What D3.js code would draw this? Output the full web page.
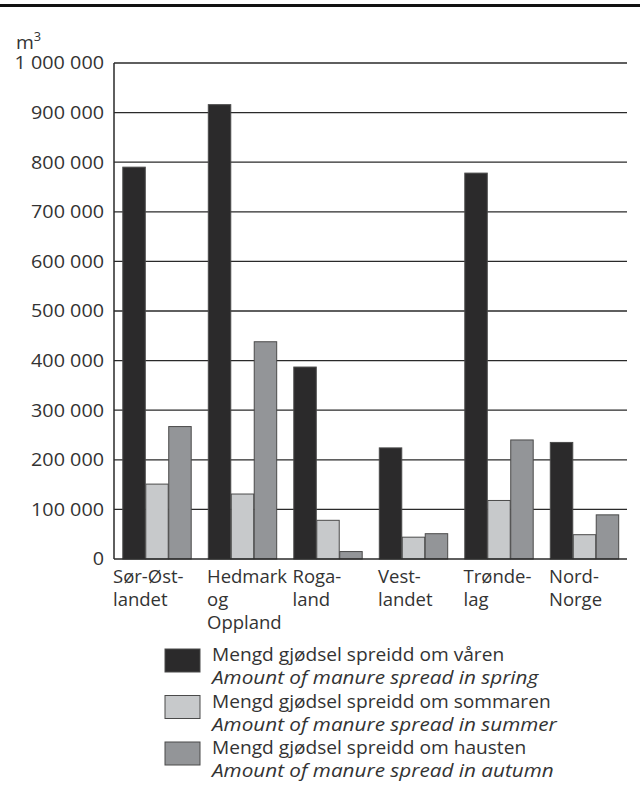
<!DOCTYPE html>
<html>
<head>
<meta charset="utf-8">
<script src="https://cdn.jsdelivr.net/npm/d3@7"></script>
<style>
  html, body { margin: 0; padding: 0; background: #fff; }
  svg { display: block; font-family: "Open Sans", sans-serif; }
</style>
</head>
<body>
<svg id="chart" width="640" height="791"></svg>
<script>
// ---- Data ----
const categories = [["Sør-Øst-", "landet"], ["Hedmark", "og", "Oppland"], ["Roga-", "land"], ["Vest-", "landet"], ["Trønde-", "lag"], ["Nord-", "Norge"]];
const categoryKeys = ["Sør-Østlandet", "Hedmark og Oppland", "Rogaland", "Vestlandet", "Trøndelag", "Nord-Norge"];
const spring = [790000, 916000, 387000, 224000, 778000, 235000];
const summer = [151000, 131000, 78000, 44000, 118000, 49000];
const autumn = [267000, 438000, 15000, 51000, 240000, 89000];
const seriesNames = ["spring", "summer", "autumn"];
const legendNo = ["Mengd gjødsel spreidd om våren", "Mengd gjødsel spreidd om sommaren", "Mengd gjødsel spreidd om hausten"];
const legendEn = ["Amount of manure spread in spring", "Amount of manure spread in summer", "Amount of manure spread in autumn"];
const yTicks = [0, 100000, 200000, 300000, 400000, 500000, 600000, 700000, 800000, 900000, 1000000];
const yTickLabels = ["0", "100 000", "200 000", "300 000", "400 000", "500 000", "600 000", "700 000", "800 000", "900 000", "1 000 000"];

const colors = { spring: "#2b2a2b", summer: "#c7c9cb", autumn: "#939598" };
const seriesData = { spring, summer, autumn };

const svg = d3.select("#chart");
const textColor = "#333";

// top rule
svg.append("rect").attr("x", 0).attr("y", 4).attr("width", 640).attr("height", 3).attr("fill", "#111");

const plot = { left: 114, right: 627, top: 63, bottom: 559 };

const y = d3.scaleLinear().domain([0, 1000000]).range([plot.bottom, plot.top]);
const x0 = d3.scaleBand().domain(categoryKeys).range([plot.left, plot.right]).padding(0);
const x1 = d3.scaleBand().domain(seriesNames).range([8.3, x0.bandwidth() - 8.3]).padding(0);

// gridlines
svg.append("g").selectAll("line").data(yTicks.slice(1)).join("line")
  .attr("x1", plot.left).attr("x2", plot.right)
  .attr("y1", d => y(d)).attr("y2", d => y(d))
  .attr("stroke", "#2a2a2a").attr("stroke-width", 1.3);

// bars
const groups = svg.append("g").selectAll("g").data(categoryKeys).join("g")
  .attr("transform", d => `translate(${x0(d)},0)`);
groups.selectAll("rect").data((d, i) => seriesNames.map(s => ({ s, v: seriesData[s][i] }))).join("rect")
  .attr("x", d => x1(d.s) + 0.5)
  .attr("width", x1.bandwidth() - 0.5)
  .attr("y", d => y(d.v))
  .attr("height", d => y(0) - y(d.v))
  .attr("fill", d => colors[d.s])
  .attr("stroke", "#4a4a4a").attr("stroke-width", 1);

// axes lines
svg.append("line").attr("x1", plot.left).attr("x2", plot.left).attr("y1", plot.top).attr("y2", plot.bottom)
  .attr("stroke", "#2a2a2a").attr("stroke-width", 1.5);
svg.append("line").attr("x1", plot.left).attr("x2", plot.right).attr("y1", plot.bottom).attr("y2", plot.bottom)
  .attr("stroke", "#2a2a2a").attr("stroke-width", 1.5);

// y tick labels (slightly widened to match the reference typeface)
svg.append("g").selectAll("text").data(yTicks).join("text")
  .attr("transform", d => `translate(${plot.left - 10},${y(d)}) scale(1.07,1)`)
  .attr("dy", "0.35em")
  .attr("text-anchor", "end")
  .attr("font-size", 18.5)
  .attr("fill", textColor)
  .text((d, i) => yTickLabels[i]);

// unit label
const unit = svg.append("text").attr("transform", "translate(16,48.5) scale(1.07,1)").attr("font-size", 18).attr("fill", textColor);
unit.append("tspan").text("m");
unit.append("tspan").attr("font-size", 12).attr("dy", -8).text("3");

// x labels
const xl = svg.append("g").selectAll("text").data(categoryKeys).join("text")
  .attr("transform", (d, i) => `translate(${i === 0 ? plot.left - 1 : x0(d) + 7.5},${plot.bottom + 24})`)
  .attr("font-size", 18.5)
  .attr("fill", textColor);
xl.selectAll("tspan").data((d, i) => categories[i]).join("tspan")
  .attr("x", 0)
  .attr("dy", (d, j) => j === 0 ? 0 : 23)
  .text(d => d);

// legend
const leg = svg.append("g").selectAll("g").data(seriesNames).join("g")
  .attr("transform", (d, i) => `translate(0,${655 + i * 46.5})`);
leg.append("rect").attr("x", 165).attr("y", -6).attr("width", 35).attr("height", 23)
  .attr("fill", d => colors[d]).attr("stroke", "#4a4a4a").attr("stroke-width", 1);
leg.append("text").attr("transform", "translate(212,0) scale(1.035,1)").attr("dy", "0.35em").attr("font-size", 18.5)
  .attr("fill", textColor).text((d, i) => legendNo[i]);
leg.append("text").attr("transform", "translate(212,23) scale(1.12,1)").attr("dy", "0.35em").attr("font-size", 18.5)
  .attr("font-style", "italic").attr("fill", textColor).text((d, i) => legendEn[i]);
</script>
</body>
</html>
